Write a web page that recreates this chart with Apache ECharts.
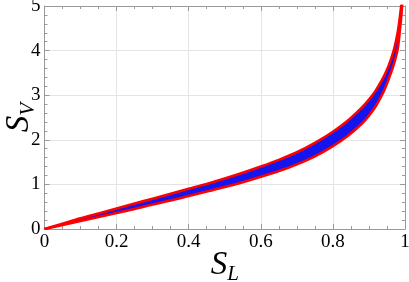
<!DOCTYPE html>
<html>
<head>
<meta charset="utf-8">
<script src="https://cdn.jsdelivr.net/npm/echarts@6/dist/echarts.min.js"></script>
<style>
html,body{margin:0;padding:0;background:#fff;}
#c{width:409px;height:282px;}
</style>
</head>
<body>
<div id="c"></div>
<script>
// S_L sample positions
var sL = [0, 0.05, 0.1, 0.15, 0.2, 0.25, 0.3, 0.35, 0.4, 0.45, 0.5, 0.55, 0.6, 0.65, 0.7, 0.75, 0.8, 0.84, 0.88, 0.9, 0.92, 0.94, 0.95, 0.96, 0.97, 0.98, 0.985, 0.99, 0.995, 0.999];
// upper red bound of S_V
var upperSV = [0, 0.12, 0.24, 0.35, 0.46, 0.57, 0.68, 0.79, 0.90, 1.01, 1.13, 1.26, 1.40, 1.55, 1.72, 1.93, 2.18, 2.42, 2.72, 2.90, 3.12, 3.40, 3.57, 3.78, 4.04, 4.42, 4.70, 5.05, 5.6, 6.8];
// lower red bound of S_V
var lowerSV = [0, 0.09, 0.18, 0.27, 0.36, 0.45, 0.55, 0.64, 0.74, 0.84, 0.94, 1.05, 1.17, 1.30, 1.45, 1.63, 1.86, 2.08, 2.36, 2.54, 2.77, 3.07, 3.26, 3.48, 3.72, 4.05, 4.40, 4.80, 5.4, 6.7];
var xTicks = [0, 0.2, 0.4, 0.6, 0.8, 1];
var yTicks = [0, 1, 2, 3, 4, 5];

var serif = "'Liberation Serif', 'Times New Roman', serif";
var frame = '#9a9a9a';

function pairs(xs, ys) { return xs.map(function (x, i) { return [x, ys[i]]; }); }

function axisCommon(showLabel, grid) {
  return {
    axisLine: { show: true, onZero: false, lineStyle: { color: frame, width: 1 } },
    axisTick: { show: true, inside: true, length: 5, lineStyle: { color: frame } },
    minorTick: { show: true, length: 3, lineStyle: { color: frame } },
    splitLine: { show: grid, lineStyle: { color: '#e4e4e4', width: 1 } },
    axisLabel: { show: showLabel, fontFamily: serif, fontSize: 19, color: '#000', margin: 4 }
  };
}
var titleRich = {
  s: { fontFamily: serif, fontStyle: 'italic', fontSize: 33, lineHeight: 36, verticalAlign: 'top', color: '#000' },
  sub: { fontFamily: serif, fontStyle: 'italic', fontSize: 21, lineHeight: 36, verticalAlign: 'bottom', color: '#000' }
};

var chart = echarts.init(document.getElementById('c'), null, { renderer: 'canvas' });
var xMain = Object.assign({ type: 'value', min: xTicks[0], max: xTicks[xTicks.length - 1], interval: 0.2, position: 'bottom' }, axisCommon(true, true));
xMain.minorTick.splitNumber = 4;
xMain.name = '{s|S}{sub|L}';
xMain.nameLocation = 'middle';
xMain.nameGap = 20;
xMain.nameMoveOverlap = false;
xMain.nameTextStyle = { rich: titleRich };
var xTop = Object.assign({ type: 'value', min: 0, max: 1, interval: 0.2, position: 'top' }, axisCommon(false, false));
xTop.minorTick.splitNumber = 4;

var yMain = Object.assign({ type: 'value', min: yTicks[0], max: yTicks[yTicks.length - 1], interval: 1, position: 'left' }, axisCommon(true, true));
yMain.minorTick.splitNumber = 5;
yMain.name = '{s|S}{sub|V}';
yMain.nameLocation = 'middle';
yMain.nameGap = 6;
yMain.nameRotate = 90;
yMain.nameMoveOverlap = false;
yMain.nameTextStyle = { rich: titleRich };
var yRight = Object.assign({ type: 'value', min: 0, max: 5, interval: 1, position: 'right' }, axisCommon(false, false));
yRight.minorTick.splitNumber = 5;

// blue band between the bounds, drawn through the axes' coordinate system
var bandSeries = {
  type: 'custom',
  coordinateSystem: 'cartesian2d',
  clip: true,
  silent: true,
  z: 2,
  data: pairs(sL, upperSV),
  encode: { x: 0, y: 1 },
  renderItem: function (params, api) {
    if (params.dataIndex !== 0) return null;
    var pts = [];
    for (var i = 0; i < sL.length; i++) pts.push(api.coord([sL[i], upperSV[i]]));
    for (var j = sL.length - 1; j >= 0; j--) pts.push(api.coord([sL[j], lowerSV[j]]));
    return {
      type: 'polygon',
      shape: { points: pts },
      style: { fill: '#1414ee', stroke: null }
    };
  }
};

chart.setOption({
  animation: false,
  backgroundColor: '#fff',
  textStyle: { fontFamily: serif },
  grid: { left: 44.5, right: 4, top: 6, bottom: 53, containLabel: false, outerBoundsMode: 'none' },
  xAxis: [xMain, xTop],
  yAxis: [yMain, yRight],
  series: [
    bandSeries,
    { type: 'line', data: pairs(sL, upperSV), symbol: 'none', smooth: 0.3,
      lineStyle: { color: '#ff0000', width: 2.6 }, z: 3 },
    { type: 'line', data: pairs(sL, lowerSV), symbol: 'none', smooth: 0.3,
      lineStyle: { color: '#ff0000', width: 2.6 }, z: 3 }
  ]
});
</script>
</body>
</html>
